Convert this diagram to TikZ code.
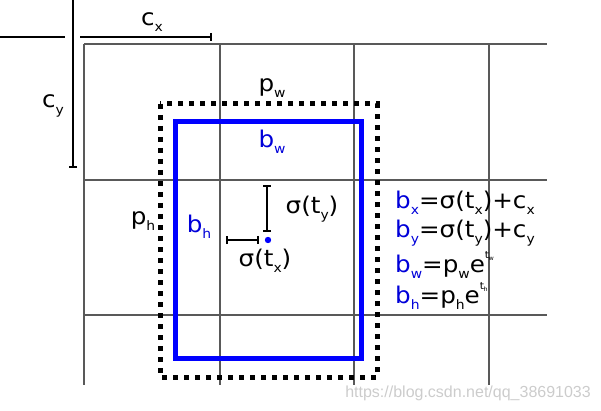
\documentclass[tikz,border=0pt]{standalone}
\usepackage{fontspec}
\setmainfont{DejaVu Sans}[FakeStretch=1.07]
\newfontfamily\wmfont{Liberation Sans}
\usetikzlibrary{arrows.meta}
% small index and exponent
\newcommand{\dn}[1]{\raisebox{-0.5ex}{\fontsize{13}{13}\selectfont #1}}
\newcommand{\ex}[1]{e\raisebox{1.1ex}{\fontsize{10}{10}\selectfont t\kern-0.5pt\raisebox{-0.3ex}{\fontsize{6}{6}\selectfont #1}}}
\tikzset{
  gridline/.style={draw=black!65, line width=1.2pt},
  dimline/.style={line width=1.8pt},
  anchorbox/.style={line width=5pt, dash pattern=on 5pt off 6pt},
  predbox/.style={draw=blue, line width=5pt},
  lbl/.style={font=\fontsize{23}{27}\selectfont, inner sep=0pt},
  blbl/.style={lbl, text=blue!85!black},
}
\begin{document}
\begin{tikzpicture}[x=1pt, y=-1pt, >={Bar[width=8pt]}]
    \useasboundingbox (0,0) rectangle (601,411);

    % Gitter
    \foreach \gx in {84,220,354,489}
        \draw[gridline] (\gx,44) -- (\gx,385);
    \foreach \gy in {44,180,315}
        \draw[gridline] (84,\gy) -- (547,\gy);

    % Versatz der Zelle
    \coordinate (cx0) at (80,37);
    \coordinate (cx1) at (212,37);
    \coordinate (cy0) at (73,0);
    \coordinate (cy1) at (73,168);
    \draw[dimline] (0,37) -- (65,37);
    \draw[dimline, ->] (cx0) -- (cx1);
    \draw[dimline, ->] (cy0) -- (cy1);
    \node[lbl] (cxlbl) at (152,22) {c\dn{x}};
    \node[lbl] (cylbl) at (53,106) {c\dn{y}};

    % Anker-Box
    \draw[anchorbox] (160,104) rectangle (377,377);
    \node[lbl] (pwlbl) at (272,88) {p\dn{w}};
    \node[lbl] (phlbl) at (143,221) {p\dn{h}};

    % vorhergesagte Box
    \draw[predbox] (175,122) rectangle (361,358);
    \node[blbl] (bwlbl) at (272,142) {b\dn{w}};
    \node[blbl] (bhlbl) at (199,227) {b\dn{h}};

    % Mittelpunkt
    \coordinate (ctr) at (268,240);
    \coordinate (ty0) at (267,185);
    \coordinate (ty1) at (267,232);
    \coordinate (tx0) at (226,240);
    \coordinate (tx1) at (259,240);
    \fill[blue] (ctr) circle (3.2);
    \draw[dimline, <->] (ty0) -- (ty1);
    \draw[dimline, <->] (tx0) -- (tx1);
    \node[lbl] (tylbl) at (312,209) {σ(t\dn{y})};
    \node[lbl] (txlbl) at (265,261) {σ(t\dn{x})};

    % Gleichungen
    \node[lbl, anchor=west] (eqx) at (395,203) {\textcolor{blue!85!black}{b\dn{x}}=σ(t\dn{x})+c\dn{x}};
    \node[lbl, anchor=west] (eqy) at (395,233) {\textcolor{blue!85!black}{b\dn{y}}=σ(t\dn{y})+c\dn{y}};
    \node[lbl, anchor=west] (eqw) at (395,265) {\textcolor{blue!85!black}{b\dn{w}}=p\dn{w}\ex{w}};
    \node[lbl, anchor=west] (eqh) at (395,296) {\textcolor{blue!85!black}{b\dn{h}}=p\dn{h}\ex{h}};

    \node[font=\wmfont\fontsize{16}{16}\selectfont, text=black!20, anchor=east, inner sep=0pt] (wm) at (591,393) {https://blog.csdn.net/qq\_38691033};
\end{tikzpicture}
\end{document}
